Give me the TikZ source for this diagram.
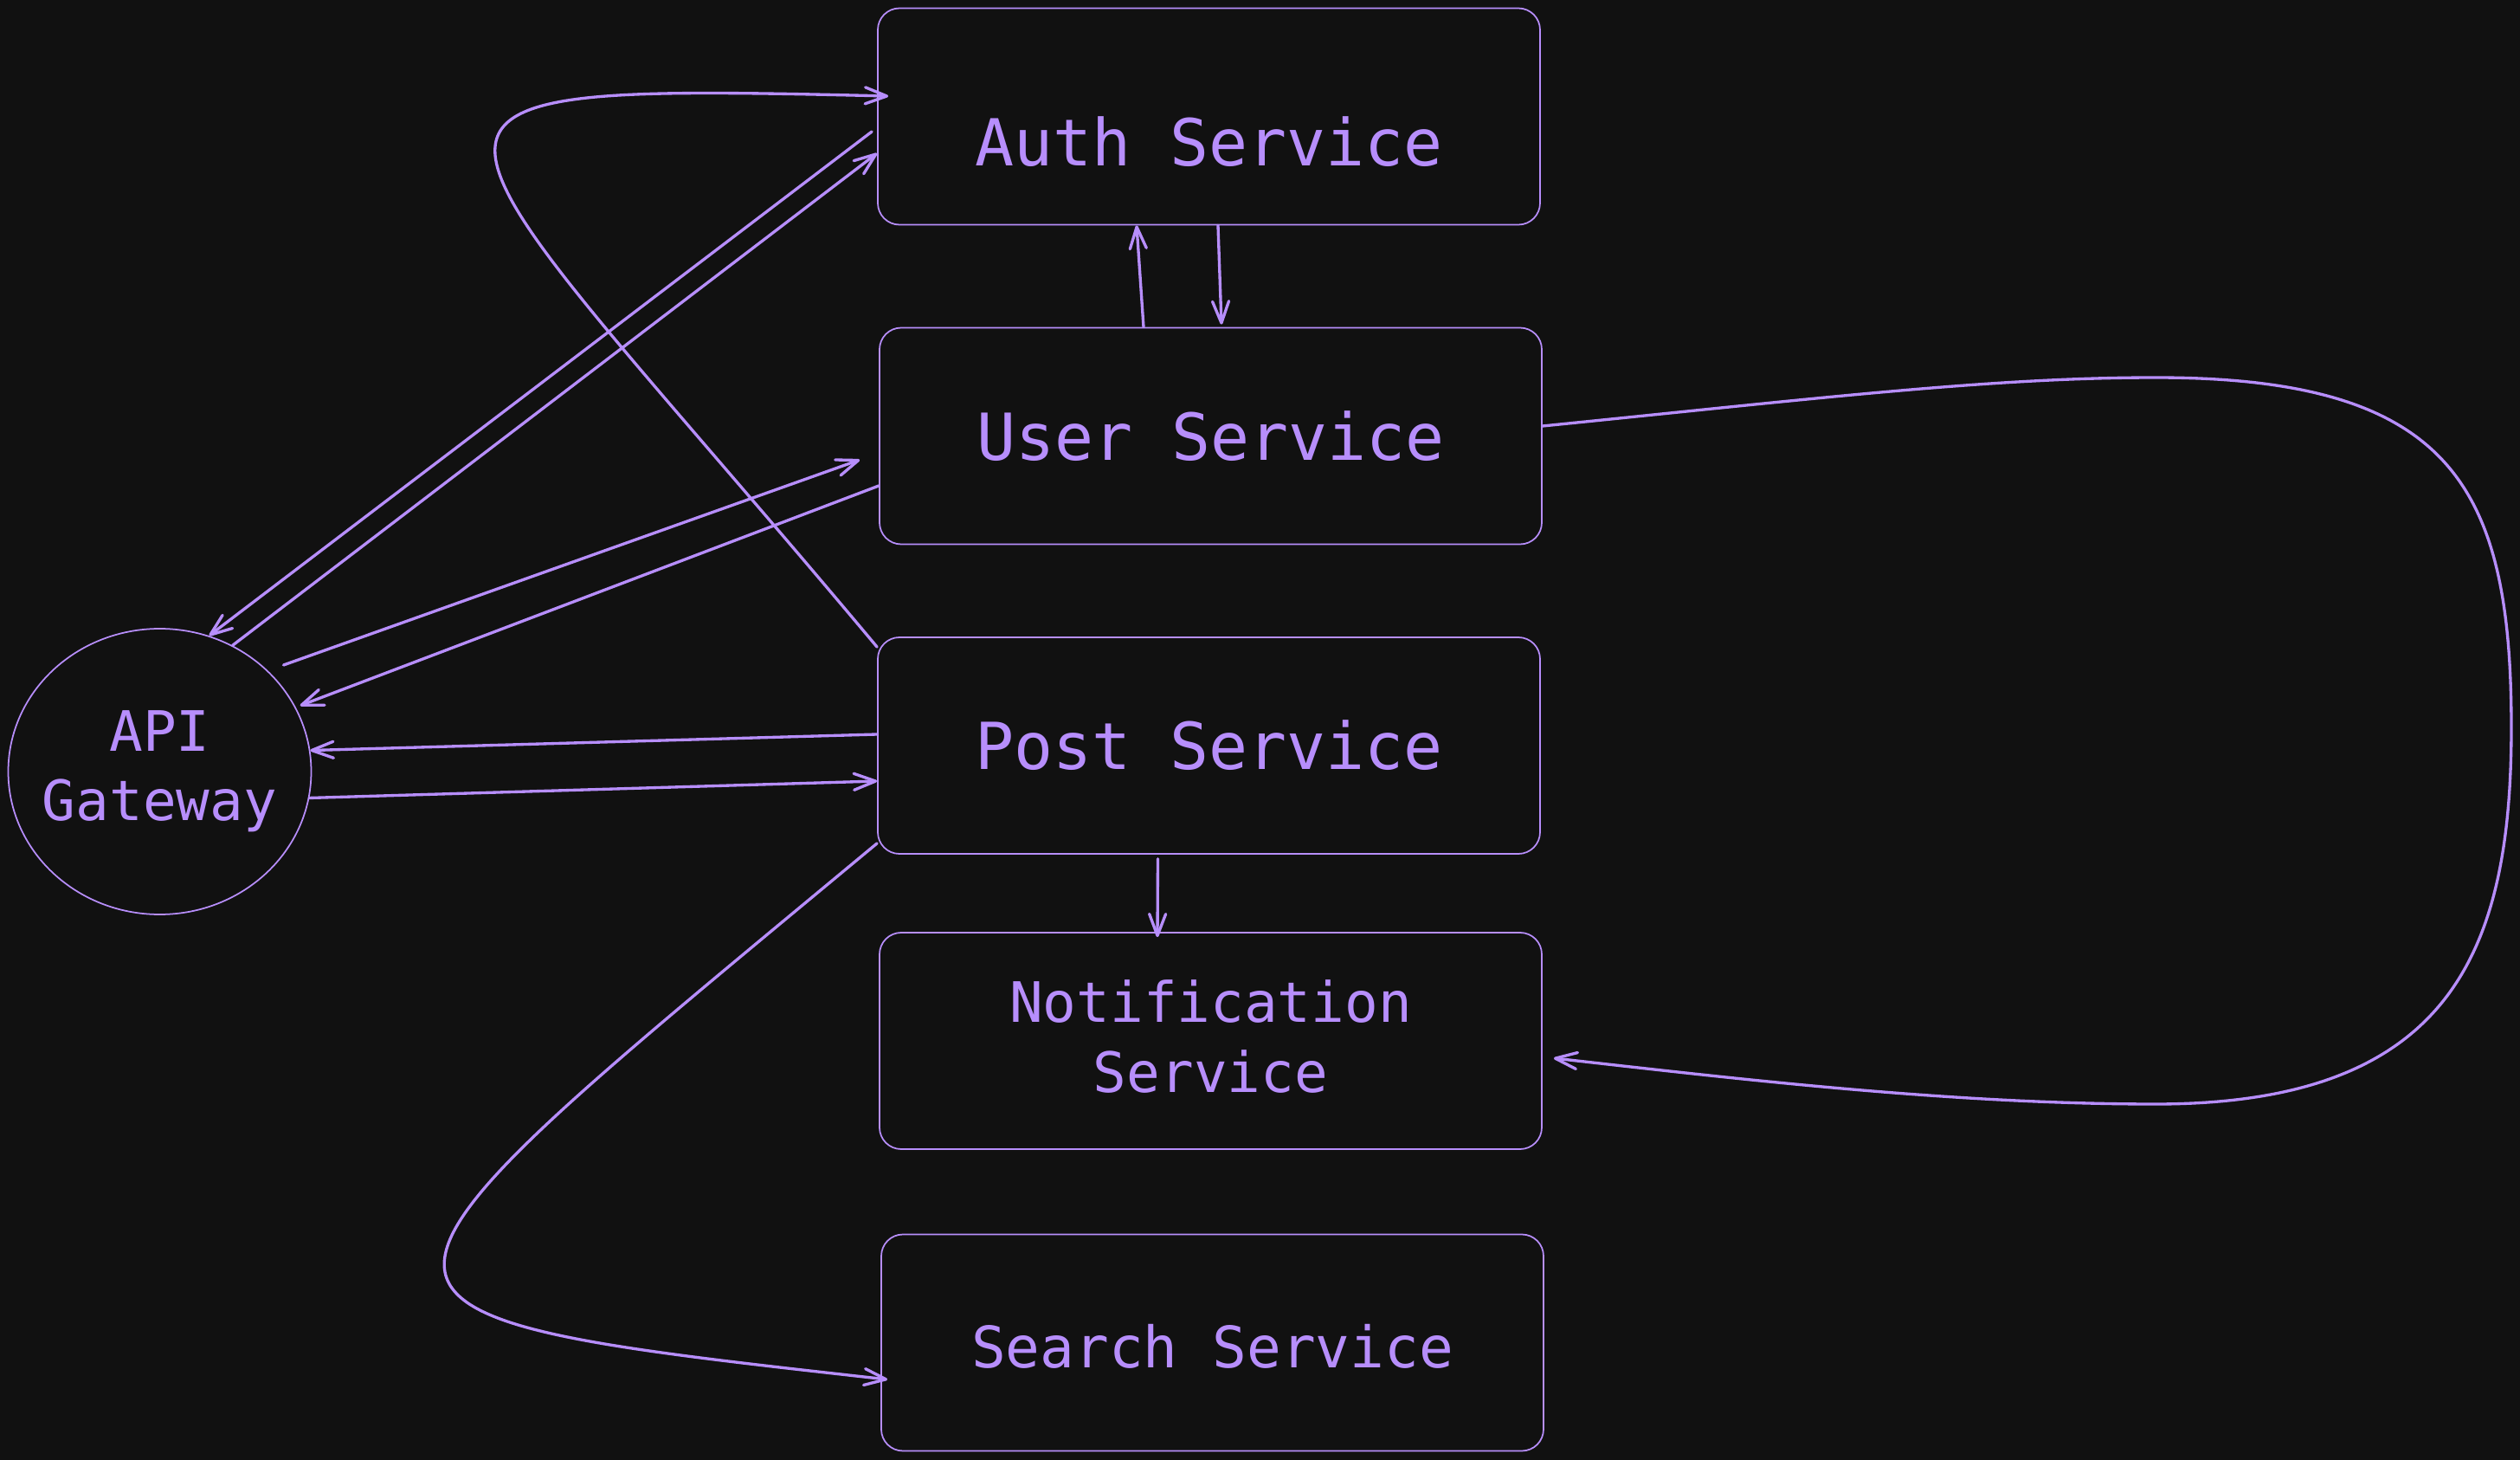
\documentclass[tikz,border=0pt]{standalone}
\usepackage{fontspec}
\setmonofont{DejaVu Sans Mono}
\usetikzlibrary{arrows.meta,shapes.geometric}
\definecolor{bgdark}{RGB}{17,17,17}
\definecolor{lilac}{RGB}{183,142,252}
\begin{document}
\begin{tikzpicture}[x=1cm,y=1cm]
\tikzset{
  svcbox/.style={rectangle,rounded corners=0.25cm,draw=lilac,line width=0.5pt,fill=bgdark,text=lilac,
    minimum width=7.65cm,minimum height=2.50cm,inner sep=0pt,align=center,
    font=\ttfamily\fontsize{21.3pt}{25pt}\selectfont},
  smalltext/.style={font=\ttfamily\fontsize{18.3pt}{22.8pt}\selectfont},
  gwnode/.style={ellipse,draw=lilac,line width=0.5pt,fill=bgdark,text=lilac,
    minimum width=3.50cm,minimum height=3.30cm,inner xsep=-0.15cm,inner ysep=0pt,align=center,smalltext},
  flow/.style={draw=lilac,line width=0.95pt,line cap=round,line join=round,
    -{Straight Barb[length=2.5mm,width=1.9mm,line cap=round,line join=round]}}
}
\fill[bgdark] (0,0) rectangle (29.11,-16.86);
\node[svcbox,text height=1.15cm,text depth=0pt] (n_auth) at (13.965,-1.345) {Auth Service};
\node[svcbox] (n_user) at (13.985,-5.035) {User Service};
\node[svcbox] (n_post) at (13.965,-8.61) {Post Service};
\node[svcbox,smalltext,text depth=0.11cm] (n_notif) at (13.985,-12.02) {Notification\\Service};
\node[svcbox,font=\ttfamily\fontsize{18.8pt}{22.8pt}\selectfont,text height=0.59cm] (n_search) at (14.005,-15.505) {Search Service};
\node[gwnode] (n_api) at (1.845,-8.91) {API\\Gateway};
\draw[flow] (n_api.60) -- ([yshift=-0.425cm]n_auth.west);
\draw[flow] ([xshift=-0.06cm,yshift=-0.175cm]n_auth.west) -- (n_api.70);
\draw[flow,shorten <=0.19cm] (n_api.43) -- ([xshift=-0.22cm,yshift=-0.275cm]n_user.west);
\draw[flow] ([yshift=-0.575cm]n_user.west) -- ([xshift=0.06cm]n_api.26);
\draw[flow] ([yshift=0.13cm]n_post.west) -- (n_api.8);
\draw[flow] (n_api.-10) -- ([yshift=-0.41cm]n_post.west);
\draw[flow] ([xshift=-0.775cm]n_user.north) -- ([xshift=-0.835cm]n_auth.south);
\draw[flow] ([xshift=0.105cm]n_auth.south) -- ([xshift=0.125cm,yshift=0.03cm]n_user.north);
\draw[flow] ([xshift=-0.59cm,yshift=-0.05cm]n_post.south) -- ([xshift=-0.615cm,yshift=-0.06cm]n_notif.north);
\draw[flow] ([yshift=-0.12cm]n_post.north west) .. controls +(-5.34,6.38) and +(-6.57,0.16) .. ([xshift=0.13cm,yshift=0.235cm]n_auth.west);
\draw[flow] ([yshift=0.13cm]n_post.south west) .. controls +(-6.55,-5.44) and +(-6.93,0.77) .. ([xshift=0.08cm,yshift=-0.425cm]n_search.west);
\draw[flow] ([yshift=0.115cm]n_user.east) .. controls (21.00,-4.60) and (23.00,-4.36) .. (24.90,-4.36)
  .. controls (28.30,-4.36) and (29.01,-5.60) .. (29.01,-8.40)
  .. controls (29.01,-11.00) and (28.30,-12.75) .. (24.90,-12.75)
  .. controls (22.50,-12.75) and (20.00,-12.45) .. ([xshift=0.13cm,yshift=-0.2cm]n_notif.east);
\end{tikzpicture}
\end{document}
